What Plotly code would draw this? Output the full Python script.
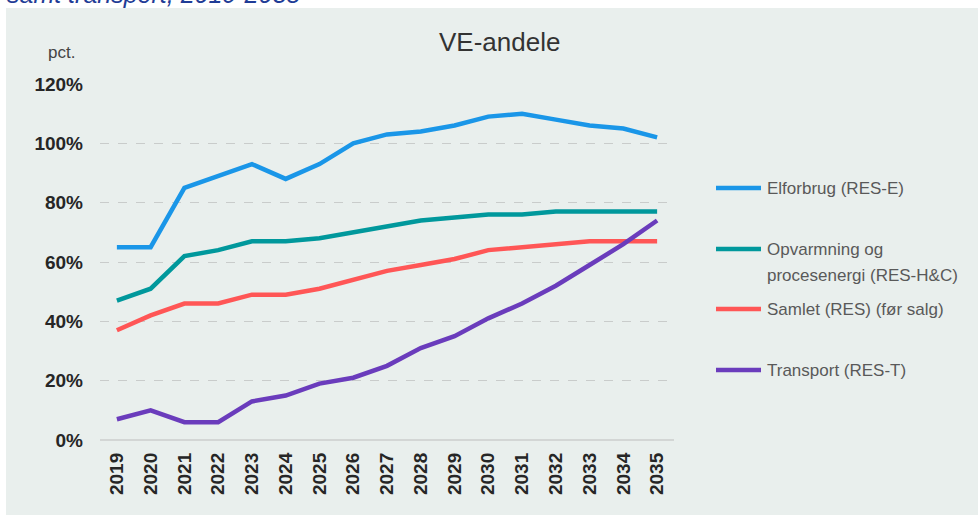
import plotly.graph_objects as go

years = [str(y) for y in range(2019, 2036)]
elforbrug = [65, 65, 85, 89, 93, 88, 93, 100, 103, 104, 106, 109, 110, 108, 106, 105, 102]
opvarmning = [47, 51, 62, 64, 67, 67, 68, 70, 72, 74, 75, 76, 76, 77, 77, 77, 77]
samlet = [37, 42, 46, 46, 49, 49, 51, 54, 57, 59, 61, 64, 65, 66, 67, 67, 67]
transport = [7, 10, 6, 6, 13, 15, 19, 21, 25, 31, 35, 41, 46, 52, 59, 66, 74]

series_names = ["Elforbrug (RES-E)", "Opvarmning og procesenergi (RES-H&C)",
                "Samlet (RES) (før salg)", "Transport (RES-T)"]
series_values = [elforbrug, opvarmning, samlet, transport]
colors = ["#1A96E8", "#00989C", "#FF5656", "#6A3CBC"]
y_ticks = [0, 20, 40, 60, 80, 100, 120]
y_ticklabels = ["0%", "20%", "40%", "60%", "80%", "100%", "120%"]

W, H = 978, 516
# plot area in page coordinates: x 100..674, y 84..440
L, T = 100, 84
R = W - 674
B = H - 440
PW, PH = W - L - R, H - T - B


def px(x):
    return (x - L) / PW


def py(y):
    return (H - B - y) / PH


fig = go.Figure()
for name, vals, col in zip(series_names, series_values, colors):
    fig.add_trace(go.Scatter(x=years, y=vals, mode="lines", name=name,
                             line=dict(color=col, width=4.5), showlegend=False))

font_main = "Liberation Sans, Arial, sans-serif"

# background panel
fig.add_shape(type="rect", xref="paper", yref="paper", x0=px(6), x1=px(990),
              y0=py(515), y1=py(8), fillcolor="#E9EFED", line=dict(width=0), layer="below")

annotations = [
    dict(text="VE-andele", x=px(499), y=py(42), xanchor="center", yanchor="middle",
         font=dict(size=26, color="#333333", family=font_main)),
    dict(text="pct.", x=px(61), y=py(52), xanchor="center", yanchor="middle",
         font=dict(size=17, color="#444444", family=font_main)),
    dict(text="<i>samt transport, 2019-2035</i>", x=px(5), y=py(10), xanchor="left", yanchor="bottom",
         font=dict(size=25, color="#1F3C96", family=font_main)),
]

legend_rows = [(188, ["Elforbrug (RES-E)"]),
               (249, ["Opvarmning og", "procesenergi (RES-H&C)"]),
               (309, ["Samlet (RES) (før salg)"]),
               (370, ["Transport (RES-T)"])]
for (ypix, lines), col in zip(legend_rows, colors):
    fig.add_shape(type="line", xref="paper", yref="paper", x0=px(716), x1=px(761),
                  y0=py(ypix), y1=py(ypix), line=dict(color=col, width=4.5))
    for i, t in enumerate(lines):
        annotations.append(dict(text=t, x=px(765), y=py(ypix + 26 * i), xanchor="left", yanchor="middle",
                                font=dict(size=17, color="#595959", family=font_main)))

for a in annotations:
    a.update(xref="paper", yref="paper", showarrow=False)

fig.update_layout(
    width=W, height=H,
    margin=dict(l=L, r=R, t=T, b=B, pad=0),
    paper_bgcolor="white",
    plot_bgcolor="rgba(0,0,0,0)",
    annotations=annotations,
    xaxis=dict(type="category", range=[-0.5, 16.5], tickangle=-90, showgrid=False,
               showline=False, zeroline=False, ticks="", ticklabelstandoff=8,
               tickfont=dict(size=19, color="#262626", family=font_main, weight="bold")),
    yaxis=dict(range=[0, 120], tickvals=y_ticks, ticktext=y_ticklabels,
               showgrid=True, gridcolor="#C9CCCB", griddash="dash", gridwidth=1,
               zeroline=True, zerolinecolor="#D3D6D5", zerolinewidth=1.5,
               showline=False, ticks="", ticklabelstandoff=16,
               tickfont=dict(size=19, color="#262626", family=font_main, weight="bold")),
)

fig.write_html("out.html", config={"displayModeBar": False},
               post_script="document.body.style.margin='0';document.body.style.overflow='hidden';")
